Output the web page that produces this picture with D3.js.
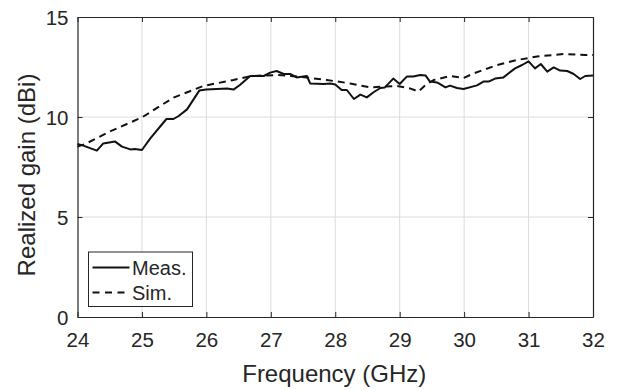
<!DOCTYPE html>
<html>
<head>
<meta charset="utf-8">
<script src="https://cdn.jsdelivr.net/npm/d3@7"></script>
<style>
  body { margin: 0; background: #fff; }
  text { font-family: "Liberation Sans", Arial, sans-serif; fill: #262626; }
</style>
</head>
<body>
<div id="chart"></div>
<script>
const ctx = {
    w: 618,
    h: 390,
    marginTop: 17,
    marginRight: 25,
    marginBottom: 73,
    marginLeft: 77.5
};

// measured gain (solid)
const measFreq = [24.0, 24.09, 24.3, 24.4, 24.58, 24.69, 24.82, 24.89, 25.0, 25.13, 25.38, 25.49, 25.57, 25.7, 25.89, 26.0, 26.32, 26.42, 26.52, 26.68, 26.89, 26.99, 27.09, 27.2, 27.3, 27.4, 27.56, 27.61, 27.82, 27.92, 28.0, 28.1, 28.18, 28.29, 28.39, 28.49, 28.6, 28.7, 28.77, 28.9, 29.0, 29.11, 29.21, 29.32, 29.4, 29.47, 29.58, 29.71, 29.78, 29.89, 29.99, 30.2, 30.3, 30.38, 30.48, 30.61, 30.79, 30.9, 31.0, 31.1, 31.19, 31.29, 31.39, 31.49, 31.6, 31.7, 31.8, 31.88, 32.0];
const measGain = [8.65, 8.57, 8.32, 8.68, 8.78, 8.52, 8.38, 8.4, 8.35, 8.93, 9.9, 9.9, 10.05, 10.38, 11.32, 11.38, 11.43, 11.37, 11.6, 12.05, 12.05, 12.22, 12.3, 12.15, 12.15, 11.98, 12.05, 11.68, 11.65, 11.68, 11.63, 11.35, 11.35, 10.9, 11.12, 10.98, 11.25, 11.45, 11.48, 11.92, 11.65, 12.02, 12.02, 12.1, 12.08, 11.77, 11.73, 11.48, 11.57, 11.45, 11.4, 11.58, 11.77, 11.77, 11.92, 11.98, 12.43, 12.6, 12.78, 12.43, 12.65, 12.27, 12.48, 12.32, 12.3, 12.15, 11.9, 12.05, 12.08];

// simulated gain (dashed)
const simFreq = [24.0, 24.12, 24.5, 25.0, 25.49, 25.95, 26.42, 26.7, 27.09, 27.45, 27.87, 28.23, 28.54, 28.96, 29.16, 29.29, 29.4, 29.53, 29.78, 29.99, 30.15, 30.51, 30.82, 31.13, 31.54, 31.88, 32.0];
const simGain = [8.52, 8.65, 9.27, 9.98, 10.97, 11.55, 11.85, 12.05, 12.1, 12.02, 11.85, 11.68, 11.48, 11.55, 11.43, 11.27, 11.6, 11.85, 12.05, 11.95, 12.18, 12.6, 12.85, 13.02, 13.15, 13.1, 13.1];

const xTicks = [24, 25, 26, 27, 28, 29, 30, 31, 32];
const yTicks = [0, 5, 10, 15];
const legendLabels = ["Meas.", "Sim."];

function createViz() {
    const width = ctx.w - ctx.marginLeft - ctx.marginRight;
    const height = ctx.h - ctx.marginTop - ctx.marginBottom;

    const svg = d3.select("#chart").append("svg")
        .attr("width", ctx.w)
        .attr("height", ctx.h)
        .append("g")
        .attr("transform", `translate(${ctx.marginLeft},${ctx.marginTop})`);

    const x = d3.scaleLinear().domain([24, 32]).range([0, width]);
    const y = d3.scaleLinear().domain([0, 15]).range([height, 0]);

    // grid
    svg.append("g").selectAll("line").data(xTicks.slice(1, -1)).join("line")
        .attr("x1", d => x(d)).attr("x2", d => x(d))
        .attr("y1", 0).attr("y2", height)
        .attr("stroke", "#dcdcdc").attr("stroke-width", 1);
    svg.append("g").selectAll("line").data(yTicks.slice(1, -1)).join("line")
        .attr("x1", 0).attr("x2", width)
        .attr("y1", d => y(d)).attr("y2", d => y(d))
        .attr("stroke", "#dcdcdc").attr("stroke-width", 1);

    // axes (ticks inside, like matlab)
    const xAxis = svg.append("g")
        .attr("transform", `translate(0,${height})`)
        .call(d3.axisBottom(x).tickValues(xTicks).tickSizeInner(-5).tickSizeOuter(0));
    xAxis.selectAll(".tick text").attr("y", 30).attr("dy", null);

    const yAxis = svg.append("g")
        .call(d3.axisLeft(y).tickValues(yTicks).tickSizeInner(-5).tickSizeOuter(0));
    yAxis.selectAll(".tick text").attr("x", -9).attr("dy", "0.36em");

    svg.append("g")
        .call(d3.axisTop(x).tickValues(xTicks).tickSizeInner(-5).tickSizeOuter(0).tickFormat(""));
    svg.append("g")
        .attr("transform", `translate(${width},0)`)
        .call(d3.axisRight(y).tickValues(yTicks).tickSizeInner(-5).tickSizeOuter(0).tickFormat(""));

    svg.selectAll(".domain").attr("stroke", "#262626").attr("stroke-width", 1.2);
    svg.selectAll(".tick line").attr("stroke", "#262626");
    svg.selectAll(".tick text").attr("font-size", 20.5).attr("fill", "#262626")
        .style("font-family", "'Liberation Sans', Arial, sans-serif");

    // axis labels
    svg.append("text")
        .attr("x", width / 2 - 1)
        .attr("y", height + 65)
        .attr("text-anchor", "middle")
        .attr("font-size", 24)
        .text("Frequency (GHz)");
    svg.append("text")
        .attr("transform", "rotate(-90)")
        .attr("x", -height / 2 - 8)
        .attr("y", -42.5)
        .attr("text-anchor", "middle")
        .attr("font-size", 24)
        .text("Realized gain (dBi)");

    // curves
    const line = d3.line().x(d => x(d[0])).y(d => y(d[1]));
    const meas = measFreq.map((f, i) => [f, measGain[i]]);
    const sim = simFreq.map((f, i) => [f, simGain[i]]);

    svg.append("path")
        .datum(sim)
        .attr("fill", "none")
        .attr("stroke", "#111")
        .attr("stroke-width", 2)
        .attr("stroke-dasharray", "7,5")
        .attr("d", line);

    svg.append("path")
        .datum(meas)
        .attr("fill", "none")
        .attr("stroke", "#111")
        .attr("stroke-width", 2)
        .attr("stroke-linejoin", "round")
        .attr("d", line);

    // legend
    const lg = svg.append("g").attr("transform", "translate(11,235)");
    lg.append("rect")
        .attr("width", 104).attr("height", 54.5)
        .attr("fill", "#fff").attr("stroke", "#262626").attr("stroke-width", 1);
    legendLabels.forEach((lab, i) => {
        const yy = 15.5 + i * 25;
        lg.append("line")
            .attr("x1", 4).attr("x2", 41)
            .attr("y1", yy).attr("y2", yy)
            .attr("stroke", "#111").attr("stroke-width", 2)
            .attr("stroke-dasharray", i === 0 ? null : "7,5.5");
        lg.append("text")
            .attr("x", 43.5).attr("y", yy + 7)
            .attr("font-size", 20)
            .text(lab);
    });
}

document.addEventListener("DOMContentLoaded", function () {
    createViz();
});
</script>
</body>
</html>
